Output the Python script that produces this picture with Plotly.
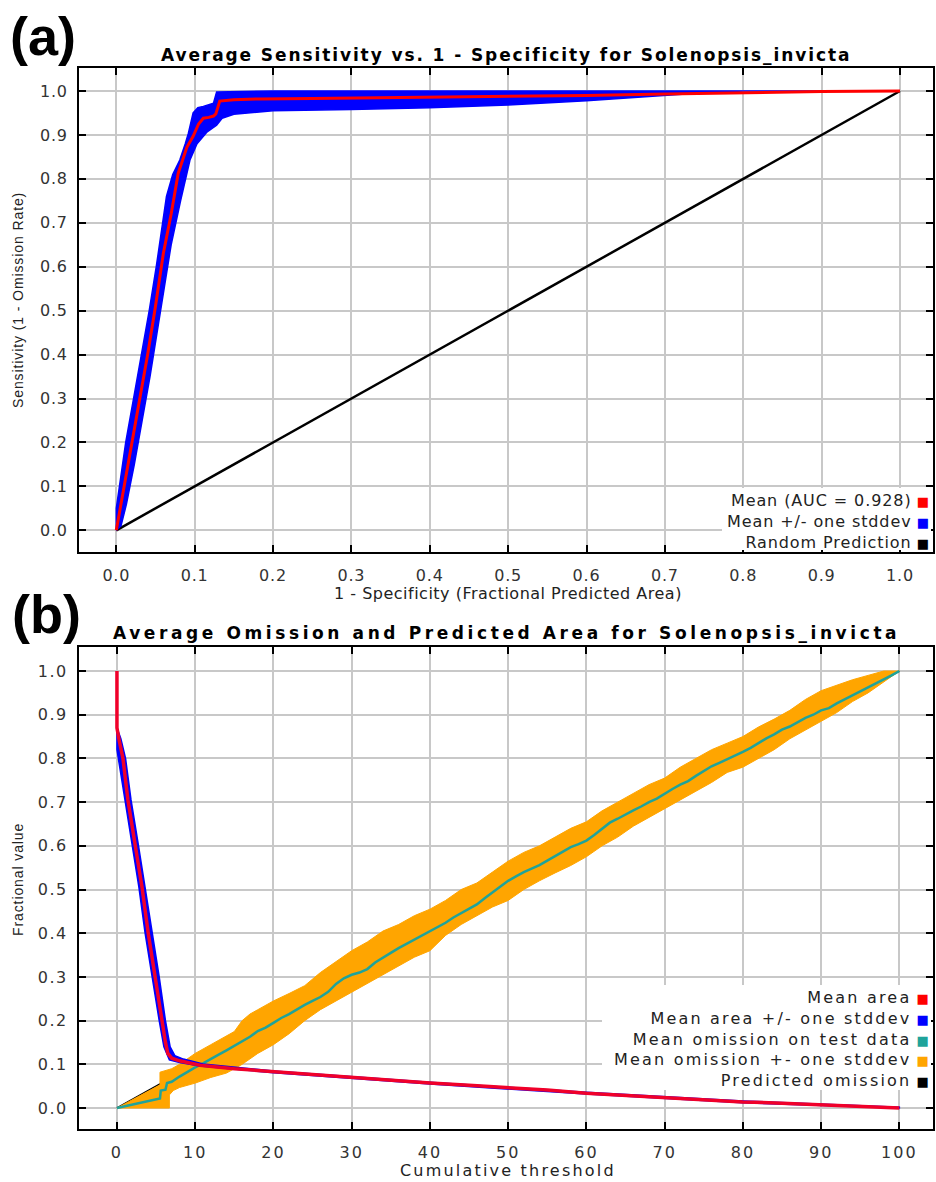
import plotly.graph_objects as go

W, H = 936, 1182

# ---------------- Panel (a): ROC data ----------------
roc_x = [0, 0.005, 0.012, 0.02, 0.03, 0.04, 0.05, 0.06, 0.07, 0.079, 0.09, 0.098, 0.105,
         0.111, 0.118, 0.124, 0.127, 0.132, 0.15, 0.183, 0.25, 0.3, 0.4, 0.5, 0.6, 0.7,
         0.8, 0.9, 1.0]
roc_y = [0, 0.05, 0.12, 0.2, 0.3, 0.4, 0.51, 0.63, 0.72, 0.813, 0.872, 0.897, 0.925,
         0.938, 0.94, 0.943, 0.948, 0.977, 0.98, 0.982, 0.983, 0.984, 0.985, 0.988, 0.99,
         0.993, 0.996, 0.999, 1.0]
# upper (left) edge of +/- stddev band
roc_hi_x = [0, 0.0, 0.004, 0.012, 0.022, 0.032, 0.042, 0.051, 0.059, 0.064, 0.072, 0.081,
            0.088, 0.092, 0.098, 0.104, 0.111, 0.124, 0.128, 0.2, 0.5, 1.0]
roc_hi_y = [0, 0.05, 0.1, 0.2, 0.3, 0.4, 0.5, 0.6, 0.7, 0.76, 0.81, 0.843, 0.88, 0.904,
            0.95, 0.962, 0.965, 0.972, 0.998, 1.0, 1.0, 1.0]
# lower (right) edge of band, from x=1 back to origin
roc_lo_x = [1.0, 0.8, 0.75, 0.7, 0.6, 0.5, 0.4, 0.3, 0.2, 0.15, 0.135, 0.128, 0.116, 0.103,
            0.094, 0.082, 0.07, 0.061, 0.052, 0.043, 0.033, 0.023, 0.013, 0.006, 0.0]
roc_lo_y = [1.0, 1.0, 0.996, 0.99, 0.978, 0.968, 0.962, 0.958, 0.955, 0.947, 0.938, 0.922,
            0.907, 0.88, 0.843, 0.75, 0.65, 0.55, 0.45, 0.35, 0.25, 0.15, 0.06, 0.01, 0.0]
rand_x = [0.0, 1.0]
rand_y = [0.0, 1.0]
auc = 0.928

# ---------------- Panel (b): omission / area data ----------------
area_x = [0, 0, 0.3, 0.77, 1.4, 2.3, 3.2, 4.0, 4.9, 5.7, 6.2, 6.5, 7.0, 8, 10.6, 15, 20, 25,
          30, 35, 40, 45, 50, 55, 60, 65, 70, 75, 80, 85, 90, 95, 100]
area_y = [1.0, 0.87, 0.84, 0.80, 0.705, 0.606, 0.506, 0.40, 0.30, 0.20, 0.15, 0.125, 0.114,
          0.108, 0.098, 0.09, 0.083, 0.077, 0.071, 0.064, 0.057, 0.052, 0.047, 0.041, 0.034,
          0.029, 0.023, 0.018, 0.014, 0.011, 0.007, 0.004, 0.0]
area_hi_x = [0, 0.5, 1.1, 1.8, 2.7, 3.6, 4.5, 5.4, 6.2, 6.8, 7.4, 8.5, 11, 20, 40, 60, 80, 100]
area_hi_y = [0.87, 0.845, 0.80, 0.705, 0.606, 0.506, 0.40, 0.30, 0.20, 0.14, 0.12, 0.112,
             0.101, 0.085, 0.059, 0.036, 0.016, 0.002]
area_lo_x = [100, 80, 60, 40, 20, 10.6, 8, 6.7, 6.0, 5.4, 4.5, 3.6, 2.8, 1.9, 1.0, 0.4, 0.0, 0, 0]
area_lo_y = [0.0, 0.012, 0.032, 0.055, 0.081, 0.096, 0.104, 0.11, 0.14, 0.20, 0.30, 0.40,
             0.506, 0.606, 0.705, 0.78, 0.82, 0.84, 0.87]

om_x = [0, 1, 2, 3, 4, 5, 5.5, 5.6, 6.2, 6.4, 7, 8, 9, 10, 11, 12, 13, 14, 15, 16, 17, 18,
        19, 20, 21, 22, 23, 24, 25, 26, 27, 28, 29, 30, 31, 32, 33, 34, 35, 36, 37, 38, 39,
        40, 41, 42, 43, 44, 45, 46, 47, 48, 49, 50, 51, 52, 53, 54, 55, 56, 57, 58, 59, 60,
        61, 62, 63, 64, 65, 66, 67, 68, 69, 70, 71, 72, 73, 74, 75, 76, 77, 78, 79, 80, 81,
        82, 83, 84, 85, 86, 87, 88, 89, 90, 91, 92, 93, 94, 95, 96, 97, 98, 99, 100]
om_y = [0, 0.004, 0.008, 0.012, 0.016, 0.02, 0.022, 0.04, 0.042, 0.057, 0.06, 0.072, 0.083,
        0.093, 0.102, 0.113, 0.122, 0.132, 0.142, 0.152, 0.163, 0.176, 0.184, 0.195, 0.206,
        0.215, 0.226, 0.236, 0.245, 0.254, 0.266, 0.284, 0.297, 0.305, 0.31, 0.318, 0.333,
        0.345, 0.355, 0.366, 0.376, 0.385, 0.396, 0.405, 0.415, 0.424, 0.436, 0.446, 0.455,
        0.466, 0.48, 0.494, 0.507, 0.52, 0.53, 0.54, 0.548, 0.556, 0.566, 0.577, 0.588, 0.597,
        0.604, 0.612, 0.625, 0.64, 0.653, 0.662, 0.672, 0.681, 0.69, 0.7, 0.708, 0.72, 0.73,
        0.74, 0.748, 0.76, 0.772, 0.782, 0.79, 0.798, 0.806, 0.815, 0.824, 0.836, 0.846,
        0.855, 0.866, 0.873, 0.884, 0.893, 0.9, 0.91, 0.915, 0.926, 0.935, 0.944, 0.954,
        0.962, 0.972, 0.98, 0.99, 1.0]
om_hi_x = [0, 5.5, 5.5, 7, 8, 10, 12, 14, 15, 16, 17, 18, 20, 22, 24, 26, 28, 30, 32, 34, 36,
           38, 40, 42, 44, 46, 48, 50, 52, 54, 56, 58, 60, 62, 64, 66, 68, 70, 72, 74, 76, 78,
           80, 82, 84, 86, 88, 90, 92, 94, 96, 98, 100]
om_hi_y = [0, 0.053, 0.082, 0.09, 0.1, 0.125, 0.145, 0.165, 0.175, 0.2, 0.215, 0.225, 0.245,
           0.262, 0.28, 0.31, 0.335, 0.36, 0.38, 0.405, 0.42, 0.44, 0.455, 0.475, 0.5, 0.515,
           0.54, 0.565, 0.585, 0.6, 0.62, 0.64, 0.655, 0.68, 0.7, 0.72, 0.74, 0.755, 0.78, 0.8,
           0.82, 0.835, 0.85, 0.872, 0.89, 0.91, 0.935, 0.955, 0.968, 0.98, 0.99, 1.0, 1.0]
om_lo_x = [100, 98, 96, 94, 92, 90, 88, 86, 84, 82, 80, 78, 76, 74, 72, 70, 68, 66, 64, 62,
           60, 58, 56, 54, 52, 50, 48, 46, 44, 42, 40, 38, 36, 34, 32, 30, 28, 26, 24, 22, 20,
           18, 16, 14, 12, 10, 8, 7.2, 6.7, 6.7, 0]
om_lo_y = [1.0, 0.975, 0.95, 0.93, 0.905, 0.885, 0.865, 0.845, 0.82, 0.8, 0.78, 0.768, 0.745,
           0.725, 0.705, 0.685, 0.665, 0.645, 0.62, 0.6, 0.575, 0.555, 0.538, 0.52, 0.5, 0.475,
           0.46, 0.44, 0.42, 0.395, 0.36, 0.345, 0.325, 0.305, 0.285, 0.265, 0.245, 0.225, 0.2,
           0.17, 0.145, 0.125, 0.1, 0.08, 0.07, 0.057, 0.047, 0.04, 0.03, 0.0, 0.0]
pred_x = [0, 100]
pred_y = [0, 1.0]

ticks_a = [i / 10 for i in range(11)]
ticks_b_x = list(range(0, 101, 10))

RED = "#ff0000"
BLUE = "#0000ff"
TEAL = "#1fa39a"
ORANGE = "#ffa500"
BLACK = "#000000"


def px_x(p):
    return p / W


def px_y(p):
    return 1 - p / H


def ls(text, sp):
    return f'<span style="letter-spacing:{sp}px">{text}</span>'


fig = go.Figure()

# Panel (a)
fig.add_trace(go.Scatter(x=rand_x, y=rand_y, mode="lines", line=dict(color=BLACK, width=2.5),
                         xaxis="x", yaxis="y", hoverinfo="skip", name="Random Prediction"))
fig.add_trace(go.Scatter(x=roc_hi_x + roc_lo_x, y=roc_hi_y + roc_lo_y, mode="lines",
                         fill="toself", fillcolor=BLUE, line=dict(color=BLUE, width=1.5),
                         xaxis="x", yaxis="y", name="Mean +/- one stddev"))
fig.add_trace(go.Scatter(x=roc_x, y=roc_y, mode="lines", line=dict(color=RED, width=3),
                         xaxis="x", yaxis="y", name="Mean"))

# Panel (b)
fig.add_trace(go.Scatter(x=pred_x, y=pred_y, mode="lines", line=dict(color=BLACK, width=1.5),
                         xaxis="x2", yaxis="y2", name="Predicted omission"))
fig.add_trace(go.Scatter(x=om_hi_x + om_lo_x, y=om_hi_y + om_lo_y, mode="lines",
                         fill="toself", fillcolor=ORANGE, line=dict(color=ORANGE, width=1),
                         xaxis="x2", yaxis="y2", name="Mean omission +- one stddev"))
fig.add_trace(go.Scatter(x=om_x, y=om_y, mode="lines", line=dict(color=TEAL, width=2.5),
                         xaxis="x2", yaxis="y2", name="Mean omission on test data"))
fig.add_trace(go.Scatter(x=area_hi_x + area_lo_x, y=area_hi_y + area_lo_y, mode="lines",
                         fill="toself", fillcolor=BLUE, line=dict(color=BLUE, width=1.5),
                         xaxis="x2", yaxis="y2", name="Mean area +/- one stddev"))
fig.add_trace(go.Scatter(x=area_x, y=area_y, mode="lines", line=dict(color="#f0002a", width=3.5),
                         xaxis="x2", yaxis="y2", name="Mean area"))

xdom = [px_x(79), px_x(933)]
common = dict(showgrid=True, gridcolor="#c8c8c8", gridwidth=2, zeroline=False,
              showline=True, linecolor="black", linewidth=2, mirror="ticks",
              ticks="inside", ticklen=7, tickwidth=2, tickcolor="black",
              tickfont=dict(family="DejaVu Sans", size=16, color="#333333"))

fig.update_layout(
    width=W, height=H, margin=dict(l=0, r=0, t=0, b=0),
    paper_bgcolor="white", plot_bgcolor="white", showlegend=False,
    xaxis=dict(domain=xdom, range=[-0.0476, 1.0421], anchor="y",
               tickvals=ticks_a, ticktext=[ls(f"{v:.1f}", 0.8) for v in ticks_a],
               ticklabelstandoff=8, **common),
    yaxis=dict(domain=[px_y(552), px_y(68)], range=[-0.0494, 1.0524], anchor="x",
               tickvals=ticks_a, ticktext=[ls(f"{v:.1f}", 0.8) for v in ticks_a],
               ticklabelstandoff=6, **common),
    xaxis2=dict(domain=xdom, range=[-4.85, 104.3], anchor="y2",
                tickvals=ticks_b_x, ticktext=[ls(str(v), 2) for v in ticks_b_x],
                ticklabelstandoff=8, **common),
    yaxis2=dict(domain=[px_y(1129), px_y(647)], range=[-0.048, 1.055], anchor="x2",
                tickvals=ticks_a, ticktext=[ls(f"{v:.1f}", 1.5) for v in ticks_a],
                ticklabelstandoff=6, **common),
)

# Legend background boxes
fig.add_shape(type="rect", xref="paper", yref="paper", x0=px_x(722), x1=px_x(931),
              y0=px_y(550), y1=px_y(488), fillcolor="white", line=dict(width=0), layer="above")
fig.add_shape(type="rect", xref="paper", yref="paper", x0=px_x(602), x1=px_x(931),
              y0=px_y(1090), y1=px_y(985), fillcolor="white", line=dict(width=0), layer="above")


def sq(color):
    return f'<span style="font-size:13px;color:{color}">■</span>'


leg_a = [(f"Mean (AUC = {auc:.3f})", RED), ("Mean +/- one stddev", BLUE),
         ("Random Prediction", BLACK)]
leg_b = [("Mean area", RED), ("Mean area +/- one stddev", BLUE),
         ("Mean omission on test data", TEAL), ("Mean omission +- one stddev", ORANGE),
         ("Predicted omission", BLACK)]

fig.add_annotation(xref="paper", yref="paper", x=px_x(931), y=px_y(521), xanchor="right",
                   yanchor="middle", align="right", showarrow=False,
                   text="<br>".join(ls(t, 0.9) + " " + sq(c) for t, c in leg_a),
                   font=dict(family="DejaVu Sans", size=16, color="#222222"))
fig.add_annotation(xref="paper", yref="paper", x=px_x(931), y=px_y(1039), xanchor="right",
                   yanchor="middle", align="right", showarrow=False,
                   text="<br>".join(ls(t, 2.2) + " " + sq(c) for t, c in leg_b),
                   font=dict(family="DejaVu Sans", size=16, color="#222222"))

# Titles
fig.add_annotation(xref="paper", yref="paper", x=px_x(506), y=px_y(55), xanchor="center",
                   yanchor="middle", showarrow=False,
                   text=ls("<b>Average Sensitivity vs. 1 - Specificity for Solenopsis_invicta</b>", 1.9),
                   font=dict(family="DejaVu Sans", size=17, color="black"))
fig.add_annotation(xref="paper", yref="paper", x=px_x(507), y=px_y(633), xanchor="center",
                   yanchor="middle", showarrow=False,
                   text=ls("<b>Average Omission and Predicted Area for Solenopsis_invicta</b>", 3.6),
                   font=dict(family="DejaVu Sans", size=17, color="black"))

# Axis titles
fig.add_annotation(xref="paper", yref="paper", x=px_x(508), y=px_y(593), xanchor="center",
                   yanchor="middle", showarrow=False,
                   text=ls("1 - Specificity (Fractional Predicted Area)", 0.5),
                   font=dict(family="DejaVu Sans", size=16, color="#222222"))
fig.add_annotation(xref="paper", yref="paper", x=px_x(508), y=px_y(1170), xanchor="center",
                   yanchor="middle", showarrow=False,
                   text=ls("Cumulative threshold", 2.2),
                   font=dict(family="DejaVu Sans", size=16, color="#222222"))
fig.add_annotation(xref="paper", yref="paper", x=px_x(18), y=px_y(300), xanchor="center",
                   yanchor="middle", showarrow=False, textangle=-90,
                   text=ls("Sensitivity (1 - Omission Rate)", 0.9),
                   font=dict(family="Liberation Sans", size=14, color="#222222"))
fig.add_annotation(xref="paper", yref="paper", x=px_x(18), y=px_y(880), xanchor="center",
                   yanchor="middle", showarrow=False, textangle=-90,
                   text=ls("Fractional value", 0.9),
                   font=dict(family="Liberation Sans", size=14, color="#222222"))

# Panel labels
fig.add_annotation(xref="paper", yref="paper", x=px_x(43), y=px_y(36), xanchor="center",
                   yanchor="middle", showarrow=False, text="<b>(a)</b>",
                   font=dict(family="Liberation Sans", size=54, color="black"))
fig.add_annotation(xref="paper", yref="paper", x=px_x(46), y=px_y(614), xanchor="center",
                   yanchor="middle", showarrow=False, text="<b>(b)</b>",
                   font=dict(family="Liberation Sans", size=54, color="black"))

fig.write_html("out.html", config={"displayModeBar": False},
               post_script="document.body.style.margin='0px';"
                           "document.body.style.overflow='hidden';")
